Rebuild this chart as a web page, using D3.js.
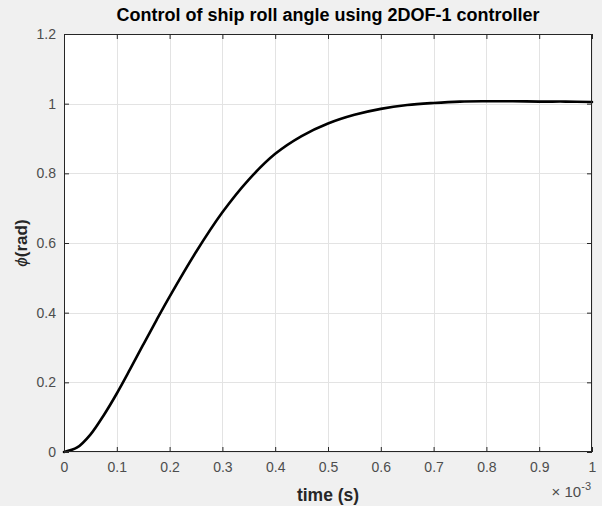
<!DOCTYPE html>
<html>
<head>
<meta charset="utf-8">
<script src="https://cdn.jsdelivr.net/npm/d3@7"></script>
<style>
  html, body { margin: 0; padding: 0; background: #f0f0f0; }
  svg { display: block; }
</style>
</head>
<body>
<svg id="chart" width="602" height="506"></svg>
<script>
// time in units of 1e-3 s
const timeValues = [0, 0.025, 0.05, 0.075, 0.1, 0.125, 0.15, 0.175, 0.2, 0.25, 0.3, 0.35, 0.4, 0.45, 0.5, 0.55, 0.6, 0.65, 0.7, 0.75, 0.8, 0.85, 0.9, 0.95, 1.0];
const rollAngle  = [0, 0.013, 0.05, 0.105, 0.168, 0.237, 0.308, 0.378, 0.446, 0.574, 0.688, 0.782, 0.856, 0.907, 0.943, 0.968, 0.985, 0.996, 1.002, 1.006, 1.007, 1.007, 1.006, 1.006, 1.005];
const xTicks = [0, 0.1, 0.2, 0.3, 0.4, 0.5, 0.6, 0.7, 0.8, 0.9, 1];
const xTickLabels = ["0", "0.1", "0.2", "0.3", "0.4", "0.5", "0.6", "0.7", "0.8", "0.9", "1"];
const yTicks = [0, 0.2, 0.4, 0.6, 0.8, 1, 1.2];
const yTickLabels = ["0", "0.2", "0.4", "0.6", "0.8", "1", "1.2"];
const titleText = "Control of ship roll angle using 2DOF-1 controller";
const xLabelText = "time (s)";

const svg = d3.select("#chart");
const L = 64, R = 592, T = 34, B = 452;
const font = "'Liberation Sans', Arial, Helvetica, sans-serif";
const axisColor = "#262626";

const x = d3.scaleLinear().domain([0, 1]).range([L, R]);
const y = d3.scaleLinear().domain([0, 1.2]).range([B, T]);

// plot background
svg.append("rect").attr("x", L).attr("y", T).attr("width", R - L).attr("height", B - T).attr("fill", "#ffffff");

// grid
const grid = svg.append("g").attr("stroke", "#e3e3e3").attr("stroke-width", 1);
xTicks.forEach(t => {
  grid.append("line").attr("x1", Math.round(x(t)) + 0.5).attr("x2", Math.round(x(t)) + 0.5).attr("y1", T).attr("y2", B);
});
yTicks.forEach(t => {
  grid.append("line").attr("y1", Math.round(y(t)) + 0.5).attr("y2", Math.round(y(t)) + 0.5).attr("x1", L).attr("x2", R);
});

// line
const line = d3.line().x((d, i) => x(timeValues[i])).y(d => y(d)).curve(d3.curveCatmullRom.alpha(0.5));
svg.append("path").datum(rollAngle).attr("d", line)
  .attr("fill", "none").attr("stroke", "#000000").attr("stroke-width", 2.6)
  .attr("stroke-linejoin", "round").attr("stroke-linecap", "round");

// box
svg.append("rect").attr("x", L + 0.5).attr("y", T + 0.5).attr("width", R - L - 1).attr("height", B - T - 1)
  .attr("fill", "none").attr("stroke", axisColor).attr("stroke-width", 1);

// axes (ticks inward)
const xAxisB = d3.axisBottom(x).tickValues(xTicks).tickSize(-5).tickPadding(10).tickFormat((d, i) => xTickLabels[i]);
const xAxisT = d3.axisTop(x).tickValues(xTicks).tickSize(-5).tickFormat("");
const yAxisL = d3.axisLeft(y).tickValues(yTicks).tickSize(-5).tickPadding(8).tickFormat((d, i) => yTickLabels[i]);
const yAxisR = d3.axisRight(y).tickValues(yTicks).tickSize(-5).tickFormat("");

function styleAxis(g) {
  g.select(".domain").remove();
  g.selectAll("line").attr("stroke", axisColor);
  g.selectAll("text").attr("fill", "#4d4d4d").style("font-family", font).style("font-size", "14px");
}
svg.append("g").attr("transform", `translate(0,${B})`).call(xAxisB).call(styleAxis);
svg.append("g").attr("transform", `translate(0,${T})`).call(xAxisT).call(styleAxis);
svg.append("g").attr("transform", `translate(${L},0)`).call(yAxisL).call(styleAxis);
svg.append("g").attr("transform", `translate(${R},0)`).call(yAxisR).call(styleAxis);

// exponent label
const ex = svg.append("text").attr("x", 591).attr("y", 497).attr("text-anchor", "end")
  .attr("fill", "#4d4d4d").style("font-family", font).style("font-size", "15px");
ex.append("tspan").text("\u00d7 10");
ex.append("tspan").attr("dy", -7).style("font-size", "11px").text("-3");

// title
svg.append("text").attr("x", (L + R) / 2).attr("y", 21).attr("text-anchor", "middle")
  .attr("fill", "#000000").style("font-family", font).style("font-size", "18px").style("font-weight", "bold")
  .text(titleText);

// x label
svg.append("text").attr("x", (L + R) / 2).attr("y", 501).attr("text-anchor", "middle")
  .attr("fill", "#262626").style("font-family", font).style("font-size", "17.5px").style("font-weight", "bold")
  .text(xLabelText);

// y label
const yl = svg.append("text").attr("transform", `translate(27,${(T + B) / 2}) rotate(-90)`).attr("text-anchor", "middle")
  .attr("fill", "#262626").style("font-family", font).style("font-size", "17px").style("font-weight", "bold");
yl.append("tspan").style("font-style", "italic").style("font-weight", "normal").text("\u03d5");
yl.append("tspan").text("(rad)");
</script>
</body>
</html>
